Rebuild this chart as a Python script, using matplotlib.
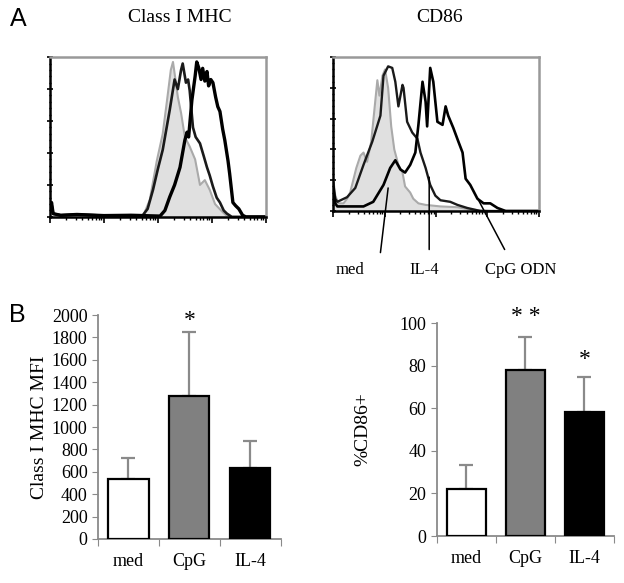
import matplotlib
matplotlib.use('Agg')
import matplotlib.pyplot as plt
import numpy as np

plt.rcParams['font.family'] = ['Liberation Serif', 'DejaVu Serif']

# --- panel A: flow histograms, x in log decades (0-4), y in % of max ---
mhc_med_x = [1.72, 1.85, 1.98, 2.09, 2.17, 2.24, 2.28, 2.33, 2.37, 2.43, 2.50, 2.59,
             2.69, 2.78, 2.87, 2.96, 3.06, 3.20, 3.30]
mhc_med_y = [0, 10.6, 35, 52, 73, 92, 97, 85, 75, 65, 50, 44, 36, 20, 23, 17, 8, 3, 0]

mhc_il4_x = [0.0, 0.03, 0.06, 0.2, 0.5, 1.0, 1.5, 1.72, 1.81, 1.91, 2.0, 2.09, 2.22,
             2.31, 2.37, 2.43, 2.46, 2.52, 2.56, 2.59, 2.65, 2.70, 2.78, 2.85, 2.91,
             2.96, 3.02, 3.09, 3.15, 3.22, 3.28, 3.37, 4.0]
mhc_il4_y = [3, 8, 2, 1, 1.5, 0.8, 1, 1, 5, 17, 30, 42, 67, 86, 80, 92, 96, 84, 86,
             79, 56, 50, 46, 38, 31, 26, 19, 12, 9, 4, 2, 0, 0]

mhc_cpg_x = [0.0, 0.03, 0.06, 0.2, 0.5, 1.0, 1.5, 2.04, 2.13, 2.22, 2.31, 2.41, 2.50,
             2.54, 2.57, 2.63, 2.69, 2.72, 2.76, 2.80, 2.83, 2.87, 2.91, 2.94, 2.98,
             3.02, 3.07, 3.11, 3.15, 3.20, 3.24, 3.30, 3.33, 3.39, 3.44, 3.50, 3.57,
             3.63, 4.0]
mhc_cpg_y = [4, 9, 2, 1, 1.5, 0.8, 1, 0.5, 4, 12.5, 20, 31, 48, 53, 50, 73, 88, 97,
             93, 86, 93, 85, 91, 82, 86, 84, 75, 69, 66, 55, 48, 35, 27, 9, 7, 5, 1,
             0, 0]

cd86_med_x = [0.0, 0.04, 0.10, 0.20, 0.27, 0.33, 0.39, 0.45, 0.53, 0.59, 0.66, 0.74,
              0.80, 0.86, 0.90, 0.96, 1.01, 1.07, 1.13, 1.19, 1.27, 1.35, 1.40, 1.50,
              1.56, 1.66, 1.80, 2.09, 2.42, 2.67, 3.06]
cd86_med_y = [21, 10, 5, 5, 8, 12, 20, 28, 36, 38, 32, 45, 65, 85, 75, 88, 92, 80,
              55, 40, 30, 25, 16, 12, 8, 5, 4, 3, 2.5, 1, 0]

cd86_il4_x = [0.0, 0.04, 0.08, 0.27, 0.43, 0.59, 0.76, 0.92, 0.98, 1.07, 1.15, 1.21,
              1.27, 1.35, 1.37, 1.44, 1.54, 1.64, 1.70, 1.80, 1.89, 1.99, 2.09, 2.28,
              2.42, 2.61, 2.87, 4.0]
cd86_il4_y = [18, 8, 6, 9, 15, 30, 45, 62, 88, 94, 93, 84, 68, 82, 80, 58, 51, 47,
              38, 28, 17, 10, 7, 6, 4, 2, 0, 0]

cd86_cpg_x = [0.0, 0.04, 0.08, 0.59, 0.78, 0.98, 1.11, 1.21, 1.31, 1.40, 1.50, 1.60,
              1.66, 1.74, 1.80, 1.83, 1.89, 1.95, 2.03, 2.13, 2.19, 2.24, 2.34, 2.44,
              2.52, 2.58, 2.67, 2.81, 2.93, 3.06, 3.20, 3.36, 4.0]
cd86_cpg_y = [15, 5, 3, 3, 6, 17, 28, 33, 27, 25, 30, 38, 56, 84, 71, 55, 93, 84,
              58, 56, 68, 62, 54, 45, 38, 21, 17, 8, 5, 5, 2, 0, 0]

# --- panel B: bar charts ---
groups = ['med', 'CpG', 'IL-4']
mhc_mfi = [536, 1277, 634]
mhc_err = [190, 574, 241]
cd86_pct = [22, 78, 58.4]
cd86_err = [11.6, 15.6, 16.4]

bar_colors = ['white', '#808080', 'black']
axis_gray = '#8a8a8a'


def style_hist(ax):
    ax.set_xlim(0, 4)
    ax.set_ylim(0, 100)
    ax.spines['left'].set_color('black')
    ax.spines['bottom'].set_color('black')
    ax.spines['left'].set_linewidth(1.8)
    ax.spines['bottom'].set_linewidth(1.8)
    for side in ['top', 'right']:
        ax.spines[side].set_color('#999999')
        ax.spines[side].set_linewidth(1.8)
    minor = [k + np.log10(m) for k in range(4) for m in range(2, 10)]
    ax.set_xticks(range(5))
    ax.set_xticks(minor, minor=True)
    ax.set_yticks(range(0, 101, 20))
    ax.set_yticks(range(0, 101, 4), minor=True)
    ax.tick_params(axis='x', which='major', direction='out', length=4, width=1.2)
    ax.tick_params(axis='x', which='minor', direction='out', length=2, width=1)
    ax.tick_params(axis='y', which='major', direction='inout', length=5, width=1.2)
    ax.tick_params(axis='y', which='minor', direction='inout', length=2, width=1)
    ax.tick_params(labelbottom=False, labelleft=False)


def draw_hist(ax, med, il4, cpg, lw_il4, lw_cpg):
    ax.fill_between(med[0], med[1], color='#e0e0e0', lw=0)
    ax.plot(med[0], med[1], color='#aaaaaa', lw=1.5)
    ax.plot(il4[0], il4[1], color='#1a1a1a', lw=lw_il4)
    ax.plot(cpg[0], cpg[1], color='black', lw=lw_cpg)


def style_bar(ax):
    for side in ['top', 'right']:
        ax.spines[side].set_visible(False)
    for side in ['left', 'bottom']:
        ax.spines[side].set_color(axis_gray)
        ax.spines[side].set_linewidth(1.3)
    ax.set_xlim(0, 3)
    ax.set_xticks([0, 1, 2, 3])
    ax.set_xticklabels([])
    ax.set_xticks([0.5, 1.5, 2.5], minor=True)
    ax.set_xticklabels(groups, minor=True, fontsize=13)
    ax.tick_params(axis='x', which='major', direction='out', length=5, color=axis_gray)
    ax.tick_params(axis='x', which='minor', length=0, pad=10)
    ax.tick_params(axis='y', direction='out', length=4, color=axis_gray, labelsize=13)


def draw_bars(ax, values, errs):
    pos = np.arange(len(values)) + 0.5
    ax.bar(pos, values, width=0.66, color=bar_colors, edgecolor='black', linewidth=1.6,
           zorder=3)
    ax.errorbar(pos, values, yerr=[np.zeros(len(errs)), errs], fmt='none',
                ecolor=axis_gray, elinewidth=1.6, capsize=5, capthick=1.6, zorder=2)


fig = plt.figure(figsize=(6.24, 5.83), dpi=100)

ax1 = fig.add_axes([0.080, 0.628, 0.346, 0.274])
draw_hist(ax1, (mhc_med_x, mhc_med_y), (mhc_il4_x, mhc_il4_y), (mhc_cpg_x, mhc_cpg_y),
          1.9, 2.4)
style_hist(ax1)
fig.text(0.288, 0.970, 'Class I MHC', ha='center', va='center', fontsize=14)

ax2 = fig.add_axes([0.534, 0.638, 0.329, 0.264])
draw_hist(ax2, (cd86_med_x, cd86_med_y), (cd86_il4_x, cd86_il4_y), (cd86_cpg_x, cd86_cpg_y),
          1.7, 1.9)
style_hist(ax2)
fig.text(0.705, 0.970, 'CD86', ha='center', va='center', fontsize=14)

line_kw = dict(arrowstyle='-', color='black', lw=1.1, shrinkA=0, shrinkB=0)
ax2.annotate('', xy=(1.07, 15), xytext=(0.92, -27), arrowprops=line_kw, annotation_clip=False)
ax2.annotate('', xy=(1.87, 22), xytext=(1.87, -25), arrowprops=line_kw, annotation_clip=False)
ax2.annotate('', xy=(2.81, 8.4), xytext=(3.34, -25), arrowprops=line_kw, annotation_clip=False)
for lbl, x in zip(['med', 'IL-4', 'CpG ODN'], [0.33, 1.78, 3.65]):
    ax2.text(x, -38, lbl, ha='center', va='center', fontsize=12, clip_on=False)

fig.text(0.029, 0.968, 'A', ha='center', va='center', fontsize=18, family='Liberation Sans')
fig.text(0.027, 0.460, 'B', ha='center', va='center', fontsize=18, family='Liberation Sans')

ax3 = fig.add_axes([0.157, 0.0755, 0.293, 0.384])
draw_bars(ax3, mhc_mfi, mhc_err)
style_bar(ax3)
ax3.set_ylim(0, 2000)
ax3.set_yticks(range(0, 2001, 200))
ax3.set_ylabel('Class I MHC MFI', fontsize=14, labelpad=3)
ax3.text(1.5, 1950, '*', ha='center', va='center', fontsize=17, clip_on=False)

ax4 = fig.add_axes([0.700, 0.0806, 0.284, 0.365])
draw_bars(ax4, cd86_pct, cd86_err)
style_bar(ax4)
ax4.set_ylim(0, 100)
ax4.set_yticks(range(0, 101, 20))
ax4.set_ylabel('%CD86+', fontsize=14, labelpad=20)
ax4.text(1.5, 103, '* *', ha='center', va='center', fontsize=17, clip_on=False)
ax4.text(2.5, 83, '*', ha='center', va='center', fontsize=17, clip_on=False)

fig.savefig('out.png', dpi=100)
